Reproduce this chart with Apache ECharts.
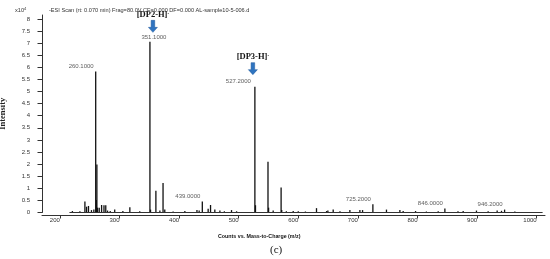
<!DOCTYPE html>
<html>
<head>
<meta charset="utf-8">
<script src="https://cdn.jsdelivr.net/npm/echarts@6/dist/echarts.min.js"></script>
<style>
  html, body { margin: 0; background: #fff; }
  #chart { width: 550px; height: 259px; }
</style>
</head>
<body>
<div id="chart"></div>
<script>
// m/z of each stick and its intensity (x10^4 counts)
const peakMz = [
  221.0, 233.6, 242.0, 244.8, 248.0, 253.0, 257.0, 260.1, 261.1, 262.1,
  263.1, 266.0, 270.0, 274.0, 277.0, 280.0, 284.5, 292.0, 305.7, 317.4,
  334.0, 351.1, 352.1, 361.1, 367.8, 373.1, 376.0, 390.0, 409.7, 430.0,
  433.7, 439.0, 448.8, 452.8, 460.0, 468.5, 476.0, 488.0, 496.5, 527.2,
  528.2, 549.2, 550.2, 557.9, 571.2, 572.2, 580.0, 591.5, 600.0, 612.0,
  630.6, 647.5, 649.7, 658.6, 670.0, 686.6, 703.4, 707.9, 725.2, 748.0,
  770.5, 776.0, 796.8, 815.0, 834.8, 846.0, 868.0, 876.7, 899.0, 918.6,
  933.7, 941.0, 946.2, 963.4
];
const peakIntensity = [
  0.06, 0.05, 0.45, 0.24, 0.27, 0.10, 0.12, 5.83, 0.52, 1.98,
  0.20, 0.20, 0.31, 0.30, 0.30, 0.08, 0.06, 0.12, 0.06, 0.22,
  0.05, 7.05, 0.12, 0.90, 0.08, 1.22, 0.12, 0.04, 0.06, 0.10,
  0.08, 0.45, 0.15, 0.31, 0.12, 0.08, 0.05, 0.10, 0.05, 5.20,
  0.30, 2.10, 0.20, 0.08, 1.03, 0.10, 0.05, 0.06, 0.05, 0.04,
  0.18, 0.06, 0.08, 0.12, 0.05, 0.10, 0.10, 0.10, 0.34, 0.12,
  0.10, 0.06, 0.06, 0.04, 0.05, 0.17, 0.05, 0.06, 0.08, 0.05,
  0.08, 0.07, 0.12, 0.04
];
const baselineMz = [216, 1010];

// labelled peaks
const labelMz = [260.1, 351.1, 439.0, 527.2, 725.2, 846.0, 946.2];
// ion annotations with arrows
const ionMz = [351.1, 527.2];
const ionNames = ['[DP2-H]', '[DP3-H]'];

const xTicks = [200, 300, 400, 500, 600, 700, 800, 900, 1000];
const yTicks = [0, 0.5, 1, 1.5, 2, 2.5, 3, 3.5, 4, 4.5, 5, 5.5, 6, 6.5, 7, 7.5, 8];

const titleText = '-ESI Scan (rt: 0.070 min) Frag=80.0V CF=0.000 DF=0.000 AL-sample10-5-006.d';
const xName = 'Counts vs. Mass-to-Charge (m/z)';
const yName = 'Intensity';
const panelName = '(c)';

const heightOf = m => peakIntensity[peakMz.indexOf(m)];

const sans = 'Liberation Sans, Arial, sans-serif';
const serif = 'Liberation Serif, Times New Roman, serif';
const arrowPath = 'path://M3,0 L7,0 L7,7 L10,7 L5,12 L0,7 L3,7 Z';

// label placement tweaks: [align, dx]
const labelPlace = { 351.1: ['center', 4], 527.2: ['right', -4] };
// arrow offsets from peak top
const arrowPlace = { 351.1: [3, -15.5], 527.2: [-2, -18] };

const chart = echarts.init(document.getElementById('chart'));

chart.setOption({
  animation: false,
  title: [
    { text: titleText, left: 44, top: 2,
      textStyle: { fontFamily: sans, fontSize: 5.6, fontWeight: 'normal', color: '#333' } },
    { text: 'x10{s|4}', left: 10, top: 2,
      textStyle: { fontFamily: sans, fontSize: 5.6, fontWeight: 'normal', color: '#333',
        rich: { s: { fontSize: 4, verticalAlign: 'top', color: '#333', fontFamily: sans } } } },
    { text: xName, left: 213, top: 229,
      textStyle: { fontFamily: sans, fontSize: 5.3, fontWeight: 'bold', color: '#111' } },
    { text: panelName, left: 265, top: 240,
      textStyle: { fontFamily: serif, fontSize: 11, fontWeight: 'normal', color: '#111' } }
  ],
  grid: { left: 42, right: 5, top: 15, bottom: 46.5, outerBoundsMode: 'none' },
  xAxis: {
    type: 'value', min: 170, max: 1014, offset: 3,
    axisLine: { onZero: false, lineStyle: { color: '#333', width: 1 } },
    axisTick: { customValues: xTicks, length: 3, lineStyle: { color: '#333' } },
    axisLabel: { customValues: xTicks, align: 'right', margin: 2, formatter: v => String(v),
      fontFamily: sans, fontSize: 6, color: '#333' },
    splitLine: { show: false }
  },
  yAxis: {
    type: 'value', min: 0, max: 8.16,
    name: yName, nameLocation: 'middle', nameGap: 35, nameRotate: 90,
    nameTextStyle: { fontFamily: serif, fontSize: 8.5, fontWeight: 'bold', color: '#222' },
    axisLine: { show: true, lineStyle: { color: '#333', width: 1 } },
    axisTick: { show: true, customValues: yTicks, length: 4.5, lineStyle: { color: '#333' } },
    axisLabel: { customValues: yTicks, margin: 12, fontFamily: sans, fontSize: 6, color: '#333' },
    splitLine: { show: false }
  },
  series: [
    {
      type: 'line',
      data: baselineMz.map(m => [m, 0]),
      symbol: 'none', silent: true,
      lineStyle: { color: '#333', width: 1 }
    },
    {
      type: 'bar',
      data: peakMz.map((m, i) => [m, peakIntensity[i]]),
      barWidth: 1.3,
      itemStyle: { color: '#111' },
      silent: true
    },
    {
      type: 'scatter',
      symbolSize: 1,
      itemStyle: { color: 'rgba(0,0,0,0)' },
      silent: true,
      data: labelMz.map(m => {
        const place = labelPlace[m] || ['right', -2];
        return {
          value: [m, heightOf(m)],
          label: {
            show: true, position: 'top', distance: 1.5,
            align: place[0], offset: [place[1], 0],
            formatter: p => p.value[0].toFixed(4),
            fontFamily: sans, fontSize: 6, color: '#333'
          }
        };
      }),
      markPoint: {
        silent: true,
        data: ionMz.map((m, i) => ({
          coord: [m, heightOf(m)],
          symbol: arrowPath,
          symbolSize: [9, 12],
          symbolOffset: arrowPlace[m],
          itemStyle: { color: '#2f74c0', borderColor: '#1f5a9e', borderWidth: 0.5 },
          label: {
            show: true, position: 'top', distance: 1,
            formatter: ionNames[i] + '{s|-}',
            fontFamily: serif, fontSize: 8.5, fontWeight: 'bold', color: '#111',
            rich: { s: { fontSize: 5, verticalAlign: 'top', fontFamily: serif, color: '#111' } }
          }
        }))
      }
    }
  ]
});
</script>
</body>
</html>
